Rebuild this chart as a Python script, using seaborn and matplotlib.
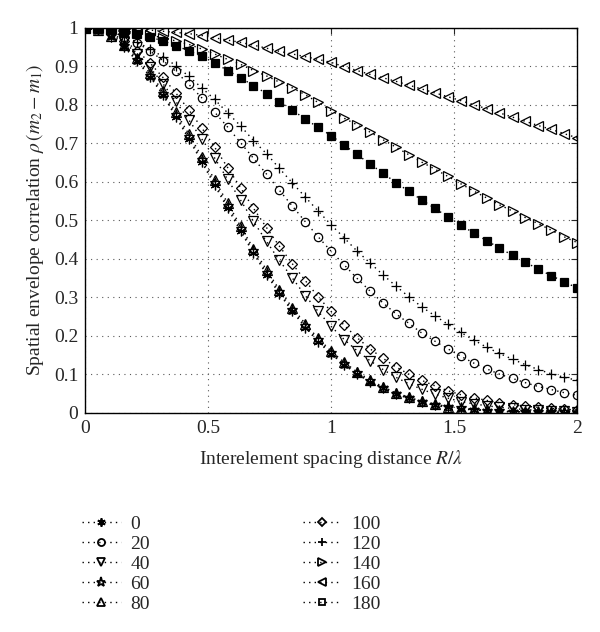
import numpy as np
import matplotlib
matplotlib.use('Agg')
import matplotlib.pyplot as plt
import seaborn as sns
from matplotlib.lines import Line2D

# sampling grid (39 points between 0 and 2)
x = [0.000, 0.053, 0.105, 0.158, 0.211, 0.263, 0.316, 0.368, 0.421, 0.474,
     0.526, 0.579, 0.632, 0.684, 0.737, 0.789, 0.842, 0.895, 0.947, 1.000,
     1.053, 1.105, 1.158, 1.211, 1.263, 1.316, 1.368, 1.421, 1.474, 1.526,
     1.579, 1.632, 1.684, 1.737, 1.789, 1.842, 1.895, 1.947, 2.000]

rho_0 = [1.000, 0.994, 0.977, 0.950, 0.913, 0.873, 0.825, 0.769, 0.711, 0.651,
         0.591, 0.531, 0.471, 0.414, 0.359, 0.309, 0.263, 0.221, 0.184, 0.152,
         0.124, 0.100, 0.080, 0.063, 0.048, 0.037, 0.027, 0.019, 0.014, 0.010,
         0.007, 0.005, 0.003, 0.002, 0.002, 0.001, 0.001, 0.000, 0.000]
rho_20 = [1.000, 0.998, 0.990, 0.977, 0.961, 0.940, 0.915, 0.887, 0.853, 0.818,
          0.781, 0.742, 0.701, 0.661, 0.620, 0.578, 0.537, 0.496, 0.457, 0.419,
          0.384, 0.349, 0.316, 0.285, 0.257, 0.232, 0.207, 0.186, 0.166, 0.147,
          0.129, 0.114, 0.100, 0.089, 0.078, 0.068, 0.060, 0.052, 0.045]
rho_40 = [1.000, 0.996, 0.983, 0.962, 0.933, 0.897, 0.855, 0.809, 0.761, 0.711,
          0.662, 0.606, 0.552, 0.497, 0.445, 0.396, 0.350, 0.304, 0.263, 0.224,
          0.190, 0.161, 0.135, 0.112, 0.092, 0.075, 0.061, 0.048, 0.038, 0.029,
          0.023, 0.018, 0.014, 0.011, 0.008, 0.006, 0.005, 0.004, 0.003]
rho_60 = [1.000, 0.994, 0.978, 0.952, 0.916, 0.876, 0.829, 0.774, 0.716, 0.657,
          0.597, 0.537, 0.477, 0.419, 0.364, 0.314, 0.267, 0.225, 0.188, 0.155,
          0.127, 0.102, 0.082, 0.064, 0.049, 0.038, 0.028, 0.020, 0.015, 0.011,
          0.008, 0.005, 0.004, 0.003, 0.002, 0.001, 0.001, 0.001, 0.000]
rho_80 = [1.000, 0.995, 0.980, 0.956, 0.921, 0.883, 0.835, 0.781, 0.724, 0.665,
          0.605, 0.545, 0.484, 0.426, 0.371, 0.320, 0.273, 0.231, 0.193, 0.160,
          0.131, 0.106, 0.085, 0.067, 0.052, 0.040, 0.030, 0.022, 0.016, 0.012,
          0.009, 0.006, 0.004, 0.003, 0.002, 0.002, 0.001, 0.001, 0.001]
rho_100 = [1.000, 0.997, 0.986, 0.967, 0.941, 0.909, 0.871, 0.831, 0.787, 0.740,
           0.690, 0.637, 0.584, 0.531, 0.481, 0.433, 0.387, 0.343, 0.301, 0.263,
           0.227, 0.195, 0.166, 0.141, 0.119, 0.100, 0.084, 0.070, 0.057, 0.047,
           0.039, 0.032, 0.026, 0.021, 0.017, 0.014, 0.011, 0.009, 0.007]
rho_120 = [1.000, 0.997, 0.990, 0.978, 0.963, 0.945, 0.925, 0.902, 0.874, 0.844,
           0.814, 0.779, 0.745, 0.707, 0.673, 0.635, 0.597, 0.560, 0.524, 0.488,
           0.454, 0.420, 0.389, 0.358, 0.329, 0.301, 0.275, 0.252, 0.230, 0.209,
           0.189, 0.170, 0.154, 0.139, 0.125, 0.112, 0.101, 0.092, 0.084]
rho_140 = [1.000, 0.999, 0.996, 0.992, 0.987, 0.981, 0.974, 0.966, 0.957, 0.945,
           0.932, 0.918, 0.905, 0.889, 0.875, 0.859, 0.844, 0.826, 0.806, 0.785,
           0.765, 0.748, 0.729, 0.709, 0.690, 0.670, 0.651, 0.633, 0.614, 0.595,
           0.576, 0.558, 0.540, 0.524, 0.507, 0.491, 0.474, 0.457, 0.442]
rho_160 = [1.000, 1.000, 0.999, 0.998, 0.996, 0.994, 0.991, 0.988, 0.985, 0.980,
           0.974, 0.968, 0.962, 0.955, 0.947, 0.939, 0.932, 0.925, 0.918, 0.910,
           0.899, 0.889, 0.879, 0.870, 0.861, 0.851, 0.841, 0.831, 0.821, 0.811,
           0.800, 0.790, 0.779, 0.768, 0.757, 0.746, 0.736, 0.725, 0.714]
rho_180 = [1.000, 0.998, 0.994, 0.989, 0.983, 0.976, 0.966, 0.954, 0.940, 0.926,
           0.909, 0.889, 0.870, 0.850, 0.829, 0.808, 0.786, 0.763, 0.741, 0.720,
           0.695, 0.671, 0.646, 0.622, 0.598, 0.575, 0.553, 0.531, 0.509, 0.488,
           0.467, 0.447, 0.428, 0.409, 0.391, 0.373, 0.356, 0.340, 0.324]

labels = ['0', '20', '40', '60', '80', '100', '120', '140', '160', '180']
series = [rho_0, rho_20, rho_40, rho_60, rho_80,
          rho_100, rho_120, rho_140, rho_160, rho_180]
markers = [(6, 2, 0), 'o', 'v', '*', '^', 'D', '+', '>', '<', 's']
msizes = [7, 6, 7, 8, 7, 5, 7, 7, 7, 5.5]

sns.set_style('white')
plt.rcParams['font.family'] = ['Liberation Serif', 'DejaVu Serif']
plt.rcParams['mathtext.fontset'] = 'stix'

fig, ax = plt.subplots(figsize=(6, 6.32), dpi=100)
fig.subplots_adjust(left=0.142, right=0.962, top=0.956, bottom=0.347)

dots = (0, (1, 3))
handles = []
for lab, vals, m, ms in zip(labels, series, markers, msizes):
    filled = lab == '180'
    sns.lineplot(x=x, y=vals, ax=ax, color='k', linestyle=dots, linewidth=1,
                 marker=m, markersize=ms,
                 markerfacecolor='k' if filled else 'none',
                 markeredgecolor='k', markeredgewidth=0.9)
    handles.append(Line2D([], [], color='k', linestyle=dots, linewidth=1,
                          marker=m, markersize=ms * 0.85, markerfacecolor='none',
                          markeredgecolor='k', markeredgewidth=1.3))

ax.set_xlim(0, 2)
ax.set_ylim(0, 1)
ax.set_xticks([0, 0.5, 1, 1.5, 2])
ax.set_xticklabels(['0', '0.5', '1', '1.5', '2'])
ax.set_yticks(np.arange(0, 1.01, 0.1))
ax.set_yticklabels(['0', '0.1', '0.2', '0.3', '0.4', '0.5', '0.6', '0.7', '0.8', '0.9', '1'])
ax.tick_params(direction='in', top=True, right=True, length=4, labelsize=14, pad=5)
ax.grid(True, linestyle=(0, (1, 4)), color='0.35', linewidth=0.8)
for s in ax.spines.values():
    s.set_color('k')
    s.set_linewidth(1)

ax.set_xlabel(r'Interelement spacing distance $R/\lambda$', fontsize=14, labelpad=8)
ax.set_ylabel(r'Spatial envelope correlation $\rho\,(m_2 - m_1)$', fontsize=14, labelpad=6)

fig.legend(handles, labels, ncol=2, loc='upper left', bbox_to_anchor=(0.107, 0.212),
           frameon=False, fontsize=14, handlelength=2.0, handletextpad=0.5,
           columnspacing=7.85, labelspacing=0.12)

fig.savefig('out.png', dpi=100)
